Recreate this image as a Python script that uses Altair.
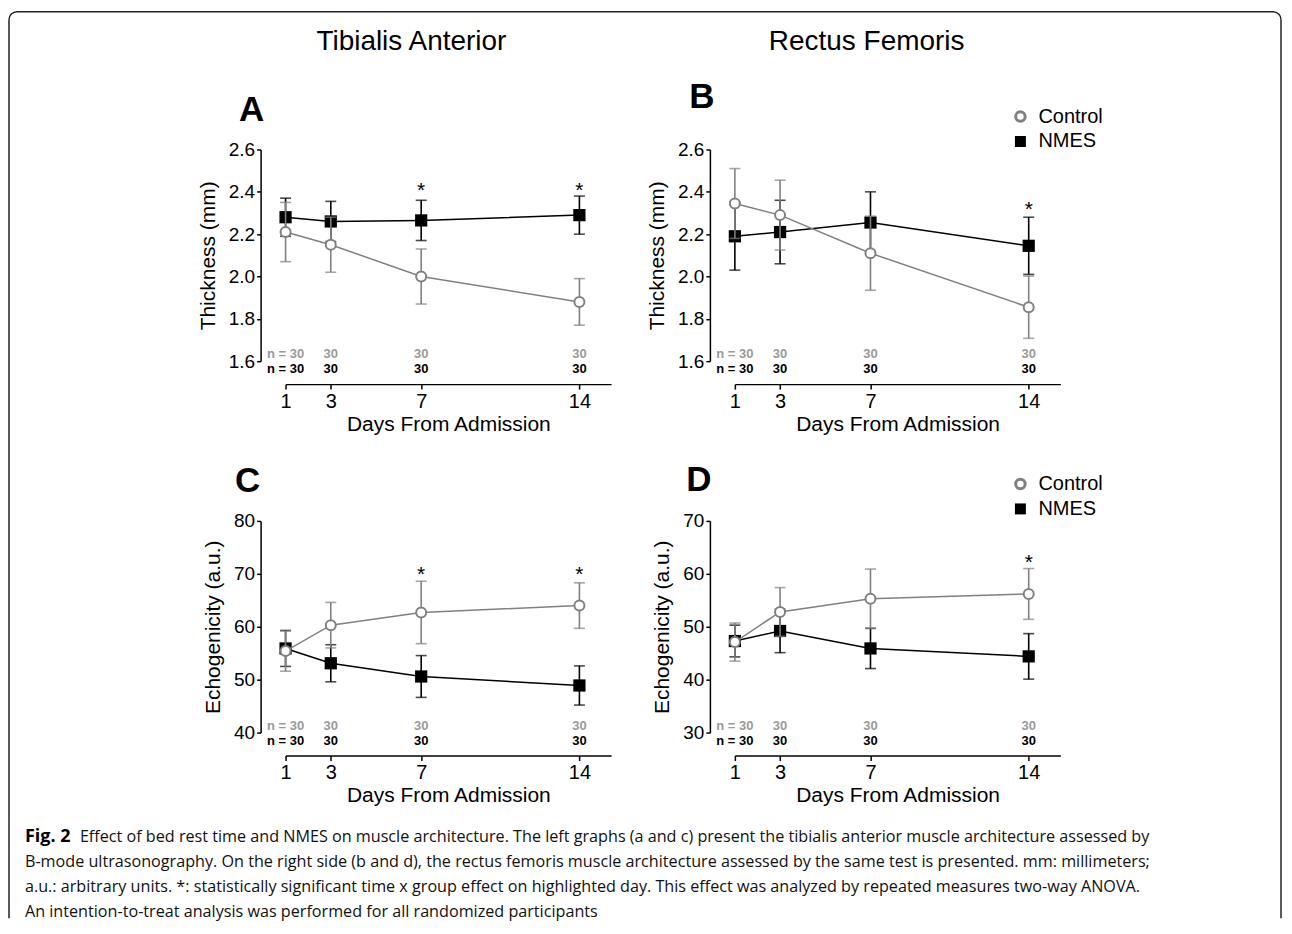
import math
import altair as alt
import pandas as pd

# ---------------- data ----------------
days = [1, 3, 7, 14]

# Panel A - Tibialis anterior thickness (mm)
ta_thk_ctrl = [2.21, 2.15, 2.00, 1.88]
ta_thk_ctrl_sd = [0.14, 0.13, 0.13, 0.11]
ta_thk_nmes = [2.28, 2.26, 2.265, 2.29]
ta_thk_nmes_sd = [0.09, 0.095, 0.095, 0.09]
ta_thk_sig_days = [7, 14]
ta_thk_sig_y = [2.42, 2.42]

# Panel B - Rectus femoris thickness (mm)
rf_thk_ctrl = [2.345, 2.29, 2.11, 1.855]
rf_thk_ctrl_sd = [0.165, 0.165, 0.175, 0.147]
rf_thk_nmes = [2.19, 2.21, 2.255, 2.145]
rf_thk_nmes_sd = [0.16, 0.15, 0.145, 0.135]
rf_thk_sig_days = [14]
rf_thk_sig_y = [2.33]

# Panel C - Tibialis anterior echogenicity (a.u.)
ta_echo_ctrl = [55.4, 60.3, 62.7, 64.0]
ta_echo_ctrl_sd = [3.8, 4.3, 5.9, 4.3]
ta_echo_nmes = [55.9, 53.1, 50.6, 48.9]
ta_echo_nmes_sd = [3.4, 3.5, 3.95, 3.7]
ta_echo_sig_days = [7, 14]
ta_echo_sig_y = [70.3, 70.3]

# Panel D - Rectus femoris echogenicity (a.u.)
rf_echo_ctrl = [47.1, 52.8, 55.3, 56.2]
rf_echo_ctrl_sd = [3.6, 4.6, 5.6, 4.8]
rf_echo_nmes = [47.3, 49.2, 45.9, 44.4]
rf_echo_nmes_sd = [3.0, 4.1, 3.8, 4.3]
rf_echo_sig_days = [14]
rf_echo_sig_y = [62.6]

n_ctrl = [30, 30, 30, 30]
n_nmes = [30, 30, 30, 30]

thk_ticks = [1.6, 1.8, 2.0, 2.2, 2.4, 2.6]
ta_echo_ticks = [40, 50, 60, 70, 80]
rf_echo_ticks = [30, 40, 50, 60, 70]

col_titles = ["Tibialis Anterior", "Rectus Femoris"]
panel_letters = ["A", "B", "C", "D"]
legend_labels = ["Control", "NMES"]
x_title = "Days From Admission"
thk_title = "Thickness (mm)"
echo_title = "Echogenicity (a.u.)"
caption_head = "Fig. 2"
caption_lines = [
    "Effect of bed rest time and NMES on muscle architecture. The left graphs (a and c) present the tibialis anterior muscle architecture assessed by",
    "B-mode ultrasonography. On the right side (b and d), the rectus femoris muscle architecture assessed by the same test is presented. mm: millimeters;",
    "a.u.: arbitrary units. *: statistically significant time x group effect on highlighted day. This effect was analyzed by repeated measures two-way ANOVA.",
    "An intention-to-treat analysis was performed for all randomized participants",
]

# ---------------- style ----------------
FONT = "Liberation Sans"
CAP_FONT = "Open Sans"
GRAY = "#808080"
NGRAY = "#9a9a9a"
W, H = 326, 212
XDOM = [1, 15.4]


def one(text):
    return pd.DataFrame({"t": [text]})


def panel(ctrl, ctrl_sd, nmes, nmes_sd, ydom, yticks, fmt, ytitle,
          sig_days, sig_y, letter, letter_xy, title=None, title_x=0,
          legend_y=None, extras=()):
    xaxis = alt.Axis(values=days, format="d", offset=23, title=x_title,
                     titleFontSize=21, labelFontSize=20, tickSize=5,
                     labelPadding=2, titlePadding=2, labelFlush=False,
                     labelOverlap=False)
    yaxis = alt.Axis(values=yticks, format=fmt, offset=25, title=ytitle,
                     titleFontSize=21, labelFontSize=19, tickSize=4,
                     labelPadding=2, titlePadding=10, labelFlush=False,
                     labelOverlap=False)
    xs = alt.Scale(domain=XDOM, nice=False, zero=False)
    ys = alt.Scale(domain=ydom, nice=False, zero=False)

    def X():
        return alt.X("day:Q", scale=xs, axis=xaxis)

    def Y(f):
        return alt.Y(f"{f}:Q", scale=ys, axis=yaxis)

    layers = []
    for grp, m, s, col in (("NMES", nmes, nmes_sd, "black"),
                           ("Control", ctrl, ctrl_sd, GRAY)):
        df = pd.DataFrame({"day": days, "mean": m,
                           "lo": [a - b for a, b in zip(m, s)],
                           "hi": [a + b for a, b in zip(m, s)]})
        base = alt.Chart(df)
        layers.append(base.mark_rule(color=col, strokeWidth=1.6).encode(
            x=X(), y=Y("lo"), y2="hi:Q"))
        for f in ("lo", "hi"):
            layers.append(base.mark_tick(orient="horizontal", size=11,
                                         thickness=1.6, color=col).encode(
                x=X(), y=Y(f)))
        layers.append(base.mark_line(color=col, strokeWidth=1.5).encode(
            x=X(), y=Y("mean")))
        if grp == "Control":
            layers.append(base.mark_point(shape="circle", filled=True,
                                          fill="white", stroke=GRAY,
                                          strokeWidth=2, size=100,
                                          opacity=1).encode(
                x=X(), y=Y("mean")))
        else:
            layers.append(base.mark_point(shape="square", filled=True,
                                          color="black", size=150,
                                          opacity=1).encode(
                x=X(), y=Y("mean")))

    # n labels
    ndf = pd.DataFrame({
        "day": days,
        "c": [("n = %d" % n) if i == 0 else str(n) for i, n in enumerate(n_ctrl)],
        "e": [("n = %d" % n) if i == 0 else str(n) for i, n in enumerate(n_nmes)],
    })
    layers.append(alt.Chart(ndf).mark_text(font=FONT, fontSize=13,
                                           fontWeight="bold", color=NGRAY,
                                           baseline="middle").encode(
        x=X(), y=alt.value(205), text="c:N"))
    layers.append(alt.Chart(ndf).mark_text(font=FONT, fontSize=13,
                                           fontWeight="bold", color="black",
                                           baseline="middle").encode(
        x=X(), y=alt.value(220), text="e:N"))

    # significance stars
    sdf = pd.DataFrame({"day": sig_days, "sig": sig_y})
    layers.append(alt.Chart(sdf).mark_text(text="*", font=FONT, fontSize=21,
                                           color="black", baseline="middle",
                                           dy=3).encode(x=X(), y=Y("sig")))

    # panel letter
    layers.append(alt.Chart(one(letter)).mark_text(
        font=FONT, fontSize=35, fontWeight="bold", color="black",
        baseline="middle", align="center").encode(
        x=alt.value(letter_xy[0]), y=alt.value(letter_xy[1]), text="t:N"))

    if title is not None:
        layers.append(alt.Chart(one(title)).mark_text(
            font=FONT, fontSize=28, color="black", baseline="middle",
            align="center").encode(x=alt.value(title_x), y=alt.value(-108),
                                    text="t:N"))

    if legend_y is not None:
        layers.append(alt.Chart(one("c")).mark_point(
            shape="circle", filled=True, fill="white", stroke=GRAY,
            strokeWidth=3, size=90, opacity=1).encode(
            x=alt.value(286), y=alt.value(legend_y[0])))
        layers.append(alt.Chart(one("s")).mark_point(
            shape="square", filled=True, color="black", size=121,
            opacity=1).encode(x=alt.value(286), y=alt.value(legend_y[1])))
        for lab, yy in zip(legend_labels, legend_y):
            layers.append(alt.Chart(one(lab)).mark_text(
                font=FONT, fontSize=20, color="black", align="left",
                baseline="middle").encode(x=alt.value(304), y=alt.value(yy),
                                          text="t:N"))

    layers.extend(extras)
    return alt.layer(*layers).properties(width=W, height=H)


# ---------------- frame + caption (placed relative to panel A) ----------------
frame = []
LEFT, TOP, RIGHT, BOT, R = -277, -138, 997, 770, 8
frame.append(alt.Chart(one("f")).mark_rule(color="#222", strokeWidth=1.5).encode(
    x=alt.value(LEFT), y=alt.value(TOP + R), y2=alt.value(BOT)))
frame.append(alt.Chart(one("f")).mark_rule(color="#222", strokeWidth=1.5).encode(
    x=alt.value(RIGHT), y=alt.value(TOP + R), y2=alt.value(BOT)))
frame.append(alt.Chart(one("f")).mark_rule(color="#222", strokeWidth=1.5).encode(
    x=alt.value(LEFT + R), x2=alt.value(RIGHT - R), y=alt.value(TOP)))
frame.append(alt.Chart(one("f")).mark_arc(
    radius=R, radius2=R, theta=1.5 * math.pi, theta2=2 * math.pi,
    stroke="#222", strokeWidth=1.5, fill="white", fillOpacity=0).encode(
    x=alt.value(LEFT + R), y=alt.value(TOP + R)))
frame.append(alt.Chart(one("f")).mark_arc(
    radius=R, radius2=R, theta=0, theta2=0.5 * math.pi,
    stroke="#222", strokeWidth=1.5, fill="white", fillOpacity=0).encode(
    x=alt.value(RIGHT - R), y=alt.value(TOP + R)))

cap_y = [689, 714, 739, 764]
CAP_SIZE = 16.2
frame.append(alt.Chart(one(caption_head)).mark_text(
    font=CAP_FONT, fontSize=18, fontWeight="bold", color="black",
    align="left", baseline="middle").encode(
    x=alt.value(-261), y=alt.value(cap_y[0]), text="t:N"))
for i, line in enumerate(caption_lines):
    frame.append(alt.Chart(one(line)).mark_text(
        font=CAP_FONT, fontSize=CAP_SIZE, color="#111", align="left",
        baseline="middle").encode(
        x=alt.value(-206 if i == 0 else -261), y=alt.value(cap_y[i]),
        text="t:N"))

pA = panel(ta_thk_ctrl, ta_thk_ctrl_sd, ta_thk_nmes, ta_thk_nmes_sd,
           [1.6, 2.6], thk_ticks, ".1f", thk_title,
           ta_thk_sig_days, ta_thk_sig_y, panel_letters[0], (-34, -40),
           title=col_titles[0], title_x=126, extras=frame)
pB = panel(rf_thk_ctrl, rf_thk_ctrl_sd, rf_thk_nmes, rf_thk_nmes_sd,
           [1.6, 2.6], thk_ticks, ".1f", thk_title,
           rf_thk_sig_days, rf_thk_sig_y, panel_letters[1], (-33, -53),
           title=col_titles[1], title_x=132, legend_y=(-33, -8))
pC = panel(ta_echo_ctrl, ta_echo_ctrl_sd, ta_echo_nmes, ta_echo_nmes_sd,
           [40, 80], ta_echo_ticks, "d", echo_title,
           ta_echo_sig_days, ta_echo_sig_y, panel_letters[2], (-38, -40))
pD = panel(rf_echo_ctrl, rf_echo_ctrl_sd, rf_echo_nmes, rf_echo_nmes_sd,
           [30, 70], rf_echo_ticks, "d", echo_title,
           rf_echo_sig_days, rf_echo_sig_y, panel_letters[3], (-36, -41),
           legend_y=(-37, -12))

chart = alt.concat(pA, pB, pC, pD, columns=2,
                   spacing={"row": 160, "column": 124},
                   bounds="flush").properties(
    padding={"left": -2, "top": 0, "right": 0, "bottom": 0}
).configure_view(strokeWidth=0).configure_axis(
    labelFont=FONT, titleFont=FONT, labelColor="black", titleColor="black",
    domainColor="black", tickColor="black", domainWidth=1.5, tickWidth=1.5,
    titleFontWeight="normal", grid=False
)

chart.save("out.html", embed_options={"renderer": "svg", "actions": False})
